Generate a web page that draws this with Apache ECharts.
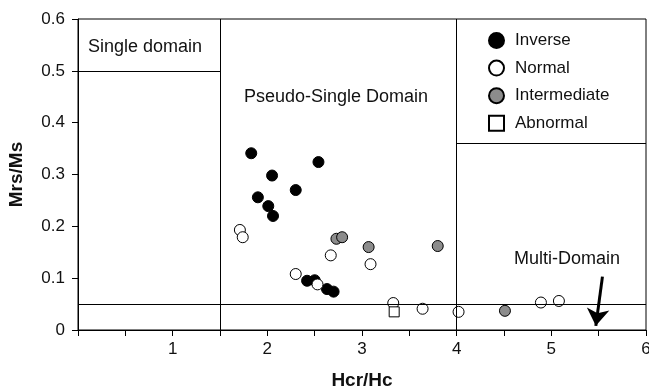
<!DOCTYPE html>
<html>
<head>
<meta charset="utf-8">
<script src="https://cdn.jsdelivr.net/npm/echarts@6/dist/echarts.min.js"></script>
<style>
  html, body { margin: 0; padding: 0; background: #fff; }
  #chart { width: 649px; height: 388px; }
</style>
</head>
<body>
<div id="chart"></div>
<script>
// Day plot: Mrs/Ms against Hcr/Hc, grouped by polarity
const inverse = [
  [1.83, 0.341], [2.54, 0.324], [2.05, 0.298], [2.30, 0.270],
  [1.90, 0.256], [2.01, 0.239], [2.06, 0.220], [2.42, 0.095],
  [2.50, 0.096], [2.63, 0.079], [2.70, 0.074]
];
const normal = [
  [1.71, 0.193], [1.74, 0.179], [2.30, 0.108], [2.53, 0.088],
  [2.67, 0.144], [3.09, 0.127], [3.33, 0.052], [3.64, 0.041],
  [4.02, 0.035], [4.89, 0.053], [5.08, 0.056]
];
const intermediate = [
  [2.73, 0.176], [2.79, 0.179], [3.07, 0.160], [3.80, 0.162], [4.51, 0.037]
];
const abnormal = [
  [3.34, 0.035]
];

// Domain boundaries (data coordinates)
const boundaries = [
  [[0, 0.05], [6, 0.05]],
  [[0, 0.5], [1.5, 0.5]],
  [[1.5, 0], [1.5, 0.6]],
  [[4, 0], [4, 0.6]],
  [[4, 0.36], [6, 0.36]]
];
const arrow = [[5.54, 0.103], [5.47, 0.008]];

const font = 'Liberation Sans, Arial, sans-serif';
const ink = '#111';
const chart = echarts.init(document.getElementById('chart'));

chart.setOption({
  animation: false,
  textStyle: { fontFamily: font },
  grid: {
    left: 78, right: 3, top: 19, bottom: 58,
    outerBoundsMode: 'none', containLabel: false,
    show: true, borderColor: '#000', borderWidth: 1
  },
  legend: {
    orient: 'vertical',
    left: 483, top: 27,
    itemWidth: 15, itemHeight: 15, itemGap: 10.6,
    textStyle: { fontSize: 17, color: ink, fontFamily: font, padding: [0, 0, 0, 6] },
    data: [
      { name: 'Inverse', icon: 'circle' },
      { name: 'Normal', icon: 'circle' },
      { name: 'Intermediate', icon: 'circle' },
      { name: 'Abnormal', icon: 'rect' }
    ]
  },
  xAxis: {
    type: 'value', min: 0, max: 6, interval: 0.5,
    name: 'Hcr/Hc', nameLocation: 'middle', nameGap: 41,
    nameTextStyle: { fontSize: 19, fontWeight: 'bold', color: ink, fontFamily: font },
    axisLine: { lineStyle: { color: '#000', width: 1 } },
    axisTick: { show: true, length: 6, lineStyle: { color: '#000' } },
    axisLabel: {
      fontSize: 17, color: ink, margin: 11,
      formatter: v => (v > 0 && Number.isInteger(v)) ? String(v) : ''
    },
    splitLine: { show: false }
  },
  yAxis: {
    type: 'value', min: 0, max: 0.6, interval: 0.1,
    name: 'Mrs/Ms', nameLocation: 'middle', nameGap: 52,
    nameTextStyle: { fontSize: 19, fontWeight: 'bold', color: ink, fontFamily: font },
    axisLine: { show: true, lineStyle: { color: '#000', width: 1 } },
    axisTick: { show: true, length: 6, lineStyle: { color: '#000' } },
    axisLabel: {
      fontSize: 17, color: ink, margin: 13,
      formatter: v => v === 0 ? '0' : v.toFixed(1)
    },
    splitLine: { show: false }
  },
  graphic: [
    { type: 'text', left: 88, top: 38, style: { text: 'Single domain', fontSize: 18, fill: ink, fontFamily: font } },
    { type: 'text', left: 244, top: 88, style: { text: 'Pseudo-Single Domain', fontSize: 18, fill: ink, fontFamily: font } },
    { type: 'text', left: 514, top: 250, style: { text: 'Multi-Domain', fontSize: 18, fill: ink, fontFamily: font } }
  ],
  series: [
    {
      name: 'boundaries', type: 'scatter', data: [], silent: true,
      markLine: {
        silent: true, symbol: 'none', animation: false,
        lineStyle: { color: '#000', width: 1, type: 'solid' },
        label: { show: false },
        data: boundaries.map(seg => [{ coord: seg[0] }, { coord: seg[1] }])
      }
    },
    {
      name: 'arrow', type: 'scatter', data: [], silent: true,
      markLine: {
        silent: true, symbol: ['none', 'arrow'], symbolSize: 17, animation: false,
        lineStyle: { color: '#000', width: 3, type: 'solid' },
        label: { show: false },
        data: [[{ coord: arrow[0] }, { coord: arrow[1] }]]
      }
    },
    {
      name: 'Inverse', type: 'scatter', data: inverse, symbol: 'circle', symbolSize: 11,
      itemStyle: { color: '#000', borderColor: '#000', borderWidth: 1, opacity: 1 }
    },
    {
      name: 'Normal', type: 'scatter', data: normal, symbol: 'circle', symbolSize: 11,
      itemStyle: { color: '#fff', borderColor: '#000', borderWidth: 1, opacity: 1 }
    },
    {
      name: 'Intermediate', type: 'scatter', data: intermediate, symbol: 'circle', symbolSize: 11,
      itemStyle: { color: '#8c8c8c', borderColor: '#000', borderWidth: 1, opacity: 1 }
    },
    {
      name: 'Abnormal', type: 'scatter', data: abnormal, symbol: 'rect', symbolSize: 10,
      itemStyle: { color: '#fff', borderColor: '#000', borderWidth: 1, opacity: 1 }
    }
  ]
});
</script>
</body>
</html>
